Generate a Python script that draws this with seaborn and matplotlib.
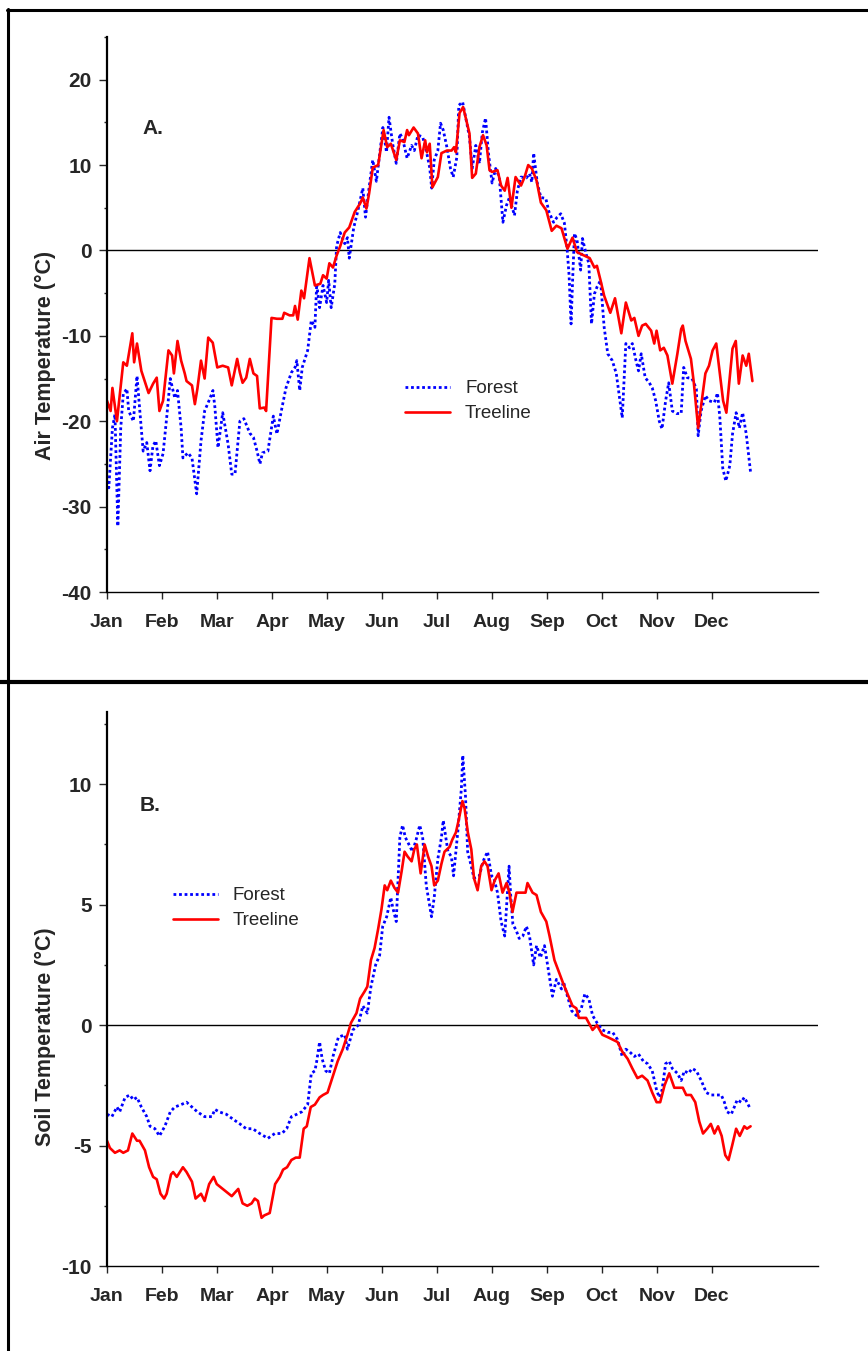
import matplotlib
matplotlib.use("Agg")
import matplotlib.pyplot as plt
from matplotlib.lines import Line2D
from matplotlib.ticker import MultipleLocator, FixedLocator
import seaborn as sns
import pandas as pd

# ---------------- data (day of year, temperature °C) ----------------
months = ["Jan", "Feb", "Mar", "Apr", "May", "Jun", "Jul", "Aug", "Sep", "Oct", "Nov", "Dec"]

air_treeline_day = [0, 2, 3, 5.5, 9, 11, 14, 15, 16.6, 19, 23, 25.5, 27.5, 29, 31, 34, 36, 37, 39, 41, 43, 44, 47, 48.6, 50, 52, 54, 56, 58.5, 61, 64, 67, 69, 72, 73.5, 75, 77, 79, 81, 83, 84.5, 87, 88, 91, 94, 97, 98, 101, 103, 104, 105.5, 107.5, 109, 112, 115, 118, 119.5, 121.5, 123, 125, 127, 129, 131.5, 134, 137, 140, 141.5, 143.5, 145, 147, 150, 153, 155, 157, 160, 162, 164.5, 166, 167, 169.6, 172, 174, 176, 177, 178.5, 180, 183, 185, 188, 190.6, 192, 193, 195, 197, 199, 200.5, 202, 204, 206, 208, 210, 211.6, 213, 216, 218, 220, 221.6, 223.7, 226, 229, 231, 233, 235, 237.6, 240, 243, 246, 248.6, 251.4, 254.7, 257.5, 260, 264, 267, 269.6, 271, 273, 275, 278.4, 281, 284.5, 287, 290, 291.7, 294, 296, 298, 301, 302.7, 304, 306, 308, 310, 312.7, 315.5, 317.6, 318.5, 320, 323, 324.6, 327, 329, 331, 333, 335, 337, 339, 340.8, 342.6, 346, 347.8, 349.5, 351.6, 353.6, 355, 357]
air_treeline_temp = [-17.6, -18.8, -16.1, -20, -13.1, -13.5, -9.7, -13.1, -10.9, -14.1, -16.7, -15.6, -14.9, -18.8, -17.6, -11.7, -12.3, -14.4, -10.6, -12.9, -14.4, -15.3, -15.8, -18, -16.2, -12.9, -15, -10.2, -10.8, -13.7, -13.5, -13.7, -15.8, -12.7, -14.3, -15.5, -14.9, -12.7, -14.4, -14.7, -18.5, -18.4, -18.8, -7.9, -8.0, -8.0, -7.3, -7.6, -7.6, -6.5, -8.1, -4.7, -5.6, -0.9, -4.1, -3.9, -2.9, -3.3, -1.5, -2.0, -0.6, 0.5, 2.1, 2.7, 4.5, 5.5, 6.2, 4.9, 6.7, 9.7, 10.0, 14.1, 12.1, 12.5, 10.6, 12.9, 12.7, 14.1, 13.5, 14.4, 13.7, 10.8, 12.9, 11.5, 12.5, 7.4, 8.6, 11.4, 11.7, 11.7, 12.1, 11.5, 16.1, 16.8, 15.0, 13.7, 8.5, 9.0, 12.1, 13.5, 12.3, 9.4, 9.2, 9.4, 7.6, 7.0, 8.5, 5.0, 8.6, 7.6, 8.6, 10.0, 9.6, 8.2, 5.6, 4.7, 2.3, 2.9, 2.6, 0.2, 1.5, -0.2, -0.6, -0.9, -2.0, -1.8, -3.5, -5.3, -7.3, -5.6, -9.7, -6.1, -8.2, -7.9, -10.0, -8.8, -8.6, -9.4, -10.9, -9.4, -11.7, -11.4, -12.3, -15.6, -12.1, -9.2, -8.8, -10.6, -12.7, -15.5, -20.8, -17.6, -14.4, -13.5, -11.7, -10.9, -14.4, -17.6, -19.0, -11.5, -10.6, -15.6, -12.3, -13.5, -12.1, -15.3]

air_forest_day = [0, 1, 3, 4.4, 6, 7.6, 9, 11, 12, 14.6, 16.6, 18, 20, 22, 23.8, 25.4, 27, 29, 31, 33, 35, 37.5, 39, 41, 42, 44.8, 47, 49.6, 52, 54, 57, 58.6, 59.7, 61.4, 64, 67, 69, 70.8, 73.5, 75.7, 79, 81, 83, 84.6, 86, 89, 92, 94, 96.7, 99, 102, 104, 105, 106.6, 108, 111, 113, 115, 116, 117.6, 119.5, 121.5, 122.6, 124, 126, 127, 129, 131.5, 133, 134, 136.5, 138.6, 141.5, 143, 145, 147, 149, 152.6, 154.6, 156, 158, 160, 162, 163.5, 166, 168.5, 170, 172, 174.6, 176.6, 178.5, 179.6, 181, 183, 184.5, 186, 188, 190, 191.5, 193.5, 194.6, 196.7, 199, 200.5, 202, 204, 206, 207.6, 209.4, 211, 213, 215, 217, 219, 221, 222.6, 225.4, 227, 229, 232, 233.7, 235, 236, 238, 240, 242.7, 244.5, 247, 249, 251, 253, 254.5, 255.6, 256.7, 257.6, 258.6, 260, 262, 263, 265, 266.5, 268, 269.6, 271, 273, 275, 277, 279.5, 281.7, 283.5, 285, 287, 289, 290.6, 292.6, 294, 295.5, 297.7, 300, 301.6, 303.5, 305.5, 307, 309, 310.7, 312.7, 315, 317.6, 319, 321, 323.6, 326, 327, 328.6, 331, 333, 336, 337.7, 339, 340.6, 342.3, 344.5, 346, 348, 349.8, 351.6, 353.6, 356]
air_forest_temp = [-27.0, -27.8, -20.8, -19.2, -32.3, -20.8, -16.8, -16.2, -18.8, -20.0, -14.7, -18.4, -23.5, -22.5, -25.8, -22.9, -22.3, -25.2, -23.8, -19.6, -15.0, -17.3, -16.4, -20.8, -24.3, -23.7, -24.3, -28.5, -22.3, -18.8, -17.3, -16.4, -18.4, -23.1, -19.0, -22.7, -26.2, -26.2, -20.0, -19.7, -21.4, -21.9, -23.5, -25.0, -23.7, -23.5, -19.4, -21.5, -18.5, -16.1, -14.3, -13.7, -12.9, -16.4, -13.7, -11.7, -8.2, -9.0, -3.9, -6.7, -4.1, -6.1, -3.5, -6.7, -3.9, 0.5, 2.1, 0.8, 1.5, -0.9, 2.7, 4.5, 7.3, 3.9, 7.4, 10.6, 8.1, 14.4, 11.5, 15.6, 12.5, 10.2, 13.7, 13.1, 10.8, 12.3, 11.7, 13.5, 13.3, 11.7, 9.7, 7.3, 10.6, 11.7, 14.9, 14.1, 12.1, 9.6, 8.6, 10.9, 17.0, 17.4, 14.9, 13.3, 9.6, 12.3, 10.2, 13.8, 15.5, 11.4, 7.9, 9.6, 8.6, 3.3, 5.3, 6.2, 4.1, 7.0, 8.6, 8.5, 9.0, 8.0, 11.4, 7.9, 6.2, 6.1, 4.5, 3.3, 3.9, 4.3, 3.2, 0.2, -2.9, -8.6, -3.2, 2.0, 1.2, -2.3, 1.4, -0.4, -1.5, -8.6, -5.1, -4.3, -3.5, -9.0, -12.1, -12.9, -14.4, -17.2, -19.6, -10.9, -11.4, -10.9, -12.9, -14.1, -12.1, -14.9, -15.5, -16.1, -17.6, -20.0, -20.9, -17.6, -15.5, -18.8, -19.1, -19.1, -13.7, -14.9, -15.0, -16.2, -21.7, -18.8, -17.0, -17.6, -17.8, -16.7, -19.6, -25.5, -27.0, -25.2, -21.5, -19.0, -20.8, -19.0, -21.5, -26.0]

soil_treeline_day = [0, 1.6, 4.4, 7, 9, 11.6, 14, 16.6, 18, 21, 23.3, 25.5, 27.5, 29.6, 31.6, 33, 35.4, 36.6, 38.6, 40.3, 42, 44, 47, 49, 52, 54, 56.5, 59, 60.7, 64, 69, 72.6, 75, 77.6, 80, 81.7, 83.5, 85.5, 87, 90, 93, 95.6, 97.4, 99.6, 102, 104.4, 106.6, 108.8, 110.5, 112.7, 115, 117.6, 119.5, 122, 125, 127.6, 130.4, 133, 135, 138, 140, 142.5, 144, 146, 148, 150, 151.8, 153.6, 155, 157, 159, 161, 163, 164.6, 166.3, 168.5, 170, 171.4, 173.5, 175.7, 177.6, 179.5, 181, 183, 185, 186.7, 189.5, 191, 193, 194.5, 196.6, 197.8, 199.6, 201.5, 203, 205, 207, 208.8, 210.5, 212.7, 214.4, 216.6, 218.8, 221, 222.6, 224.3, 226.5, 229, 231.5, 232.6, 235.4, 237.6, 240, 243, 244.8, 247.5, 250, 252, 254.7, 257.5, 259.6, 261, 265, 268.6, 271, 274, 277, 279.7, 282.4, 285, 288, 290.6, 293.4, 296, 299, 301.6, 304, 306, 308.4, 311, 313.8, 316.5, 318.5, 320.4, 323, 325.4, 327.6, 329.7, 332, 334, 336, 338, 340, 342, 343.8, 345.8, 348, 350, 352.5, 354, 356]
soil_treeline_temp = [-4.8, -5.1, -5.3, -5.2, -5.3, -5.2, -4.5, -4.8, -4.8, -5.2, -5.9, -6.3, -6.4, -7.0, -7.2, -7.0, -6.2, -6.1, -6.3, -6.1, -5.9, -6.1, -6.5, -7.2, -7.0, -7.3, -6.6, -6.3, -6.6, -6.8, -7.1, -6.8, -7.4, -7.5, -7.4, -7.2, -7.3, -8.0, -7.9, -7.8, -6.6, -6.3, -6.0, -5.9, -5.6, -5.5, -5.5, -4.3, -4.2, -3.4, -3.3, -3.0, -2.9, -2.8, -2.1, -1.5, -1.0, -0.4, 0.1, 0.5, 1.1, 1.4, 1.6, 2.7, 3.2, 4.0, 4.8, 5.8, 5.6, 6.0, 5.7, 5.5, 6.4, 7.2, 7.0, 6.8, 7.3, 7.5, 6.3, 7.5, 7.0, 6.6, 5.8, 6.0, 6.7, 7.2, 7.4, 7.7, 8.0, 8.5, 9.3, 9.0, 8.0, 7.3, 6.1, 5.6, 6.6, 6.8, 6.6, 5.6, 6.0, 6.3, 5.5, 5.9, 5.5, 4.7, 5.5, 5.5, 5.5, 5.9, 5.5, 5.4, 4.7, 4.3, 3.7, 2.7, 2.2, 1.8, 1.3, 0.8, 0.7, 0.3, 0.3, -0.2, 0.0, -0.4, -0.5, -0.6, -0.7, -1.1, -1.4, -1.8, -2.2, -2.1, -2.3, -2.8, -3.2, -3.2, -2.5, -2.0, -2.6, -2.6, -2.6, -2.9, -2.9, -3.2, -4.0, -4.5, -4.3, -4.1, -4.5, -4.2, -4.6, -5.4, -5.6, -5.0, -4.3, -4.6, -4.2, -4.3, -4.2]

soil_forest_day = [0, 2.7, 5.5, 7, 10, 12.7, 14.5, 16.6, 19, 22, 23.8, 26.5, 29, 32, 35, 37.5, 41, 44, 47, 50, 54, 58, 59.7, 62, 66, 69.6, 73.5, 77, 80.6, 84.5, 89, 92.8, 96.7, 99.4, 102, 105, 107.7, 111, 113, 115, 116, 117.6, 119, 121, 123, 125, 128, 131.5, 133, 136, 139, 141.5, 144, 146, 148.6, 150.8, 152.5, 154.7, 157, 158, 160, 161.3, 162, 163.5, 165, 167, 169, 171, 173, 174.6, 176.6, 179.5, 181, 183, 185, 186, 188.6, 190.5, 191.7, 194, 196, 196.8, 198.3, 199.5, 201.5, 203, 206, 208, 210.5, 212.7, 214, 216, 218, 220, 221, 222.4, 223.3, 224.5, 226.5, 228, 230, 232, 233.7, 236, 237.6, 239.7, 242, 243.7, 246.4, 248.6, 251.4, 252.5, 254.7, 257, 259.6, 262.4, 264.3, 266.5, 268.6, 271, 274, 277, 279.7, 282.4, 285, 287, 289, 291.7, 294, 296.7, 299, 301.6, 304, 305.5, 307, 309, 311, 312.7, 315.5, 317.6, 319.4, 321.6, 323.7, 326, 328.7, 331.5, 334, 337, 339.8, 341.5, 343, 345.3, 347, 348.6, 350.8, 352.5, 354, 356]
soil_forest_temp = [-3.7, -3.8, -3.4, -3.6, -3.0, -2.9, -3.1, -3.0, -3.4, -3.8, -4.2, -4.3, -4.6, -4.2, -3.6, -3.4, -3.3, -3.2, -3.4, -3.6, -3.8, -3.8, -3.5, -3.6, -3.7, -3.9, -4.1, -4.3, -4.3, -4.5, -4.7, -4.5, -4.5, -4.3, -3.8, -3.7, -3.6, -3.3, -2.0, -1.9, -1.5, -0.7, -1.4, -1.9, -2.0, -1.3, -0.5, -0.4, -1.0, -0.2, 0.0, 0.8, 0.5, 1.6, 2.5, 2.9, 4.1, 4.5, 5.3, 4.9, 4.3, 6.6, 7.8, 8.3, 7.8, 7.5, 7.2, 7.7, 8.3, 7.8, 5.8, 4.5, 5.3, 6.9, 7.8, 8.5, 7.2, 7.0, 6.2, 8.0, 9.8, 11.2, 9.5, 7.2, 6.6, 6.1, 6.2, 6.8, 7.2, 6.2, 6.1, 5.5, 4.3, 3.7, 4.9, 6.6, 5.4, 4.2, 3.9, 3.6, 3.7, 4.1, 3.7, 2.5, 3.3, 2.8, 3.3, 2.5, 1.2, 1.9, 1.5, 1.8, 1.2, 0.6, 0.4, 0.7, 1.3, 1.1, 0.4, 0.1, -0.2, -0.3, -0.3, -0.6, -1.3, -1.0, -1.1, -1.3, -1.2, -1.5, -1.6, -1.9, -2.7, -3.0, -2.7, -1.6, -1.5, -1.8, -2.0, -2.3, -1.9, -2.0, -1.8, -1.9, -2.3, -2.8, -2.9, -2.9, -2.9, -3.2, -3.6, -3.7, -3.4, -3.1, -3.2, -3.0, -3.2, -3.5]

series_labels = ["Forest", "Treeline"]

# ---------------- style ----------------
sns.set_style("white")
plt.rcParams["font.family"] = ["Liberation Sans", "DejaVu Sans"]
plt.rcParams["axes.unicode_minus"] = False

W, H = 868, 1351
fig = plt.figure(figsize=(W / 100, H / 100), dpi=100)

def fx(px):
    return px / W

def fy(py):
    return 1 - py / H

BLUE = "#0000FF"
RED = "#FF0000"
DAYS_PER_MONTH = 365 / 12.0


def panel(rect, f_day, f_temp, t_day, t_temp, ylim, major, minor, ylabel_txt, ylabel_y, letter, letter_pos, leg_anchor):
    ax = fig.add_axes(rect)
    df_f = pd.DataFrame({"day": f_day, "temp": f_temp})
    df_t = pd.DataFrame({"day": t_day, "temp": t_temp})
    sns.lineplot(data=df_f, x="day", y="temp", ax=ax, color=BLUE, lw=2.0,
                 estimator=None, sort=False, label=series_labels[0],
                 dashes=False, linestyle=(0, (1.0, 1.0)), dash_capstyle="butt")
    sns.lineplot(data=df_t, x="day", y="temp", ax=ax, color=RED, lw=1.9,
                 estimator=None, sort=False, label=series_labels[1])
    ax.axhline(0, color="black", lw=1.0, zorder=0)
    ax.set_xlim(0, 12.93 * DAYS_PER_MONTH)
    ax.set_ylim(*ylim)
    ax.xaxis.set_major_locator(FixedLocator([i * DAYS_PER_MONTH for i in range(12)]))
    ax.set_xticklabels(months)
    ax.yaxis.set_major_locator(MultipleLocator(major))
    ax.yaxis.set_minor_locator(MultipleLocator(minor))
    ax.set_xlabel("")
    ax.set_ylabel("")
    for s in ["top", "right"]:
        ax.spines[s].set_visible(False)
    ax.spines["left"].set_linewidth(1.6)
    ax.spines["bottom"].set_linewidth(1.0)
    ax.spines["left"].set_color("black")
    ax.spines["bottom"].set_color("black")
    ax.tick_params(axis="y", which="major", direction="out", length=6, width=1.0,
                   pad=5, labelsize=15, left=True)
    ax.tick_params(axis="y", which="minor", direction="out", length=2.5, width=1.0, left=True)
    ax.tick_params(axis="x", which="major", direction="out", length=5, width=1.0,
                   pad=10.5, labelsize=14, bottom=True)
    for lab in ax.get_xticklabels() + ax.get_yticklabels():
        lab.set_fontweight("bold")
    ax.text(letter_pos[0], letter_pos[1], letter, transform=ax.transAxes,
            fontsize=15, fontweight="bold", ha="left", va="center")
    fig.text(fx(45), fy(ylabel_y), ylabel_txt, rotation=90, ha="center", va="center",
             fontsize=15.5, fontweight="bold")
    ax.legend(loc="upper left", bbox_to_anchor=leg_anchor, frameon=False,
              fontsize=13.5, handlelength=2.4, handletextpad=0.8,
              labelspacing=0.42, borderpad=0, borderaxespad=0)
    return ax


ax_l = fx(107)
ax_w = fx(818) - fx(107)

# Panel A
a_bottom, a_top = fy(592), fy(37)
panel([ax_l, a_bottom, ax_w, a_top - a_bottom],
      air_forest_day, air_forest_temp, air_treeline_day, air_treeline_temp,
      (-40, 25), 10, 5, "Air Temperature (°C)", 355, "A.",
      ((142 - 107) / 711, (592 - 128) / 555), ((405 - 107) / 711, (592 - 380) / 555))

# Panel B
b_bottom, b_top = fy(1266), fy(712)
panel([ax_l, b_bottom, ax_w, b_top - b_bottom],
      soil_forest_day, soil_forest_temp, soil_treeline_day, soil_treeline_temp,
      (-10, 13), 5, 2.5, "Soil Temperature (°C)", 1037, "B.",
      ((140 - 107) / 711, (1266 - 805) / 554), ((173 - 107) / 711, (1266 - 887) / 554))

# Frame lines around panels
fig.add_artist(Line2D([fx(8), fx(8)], [fy(8.5), 0], color="black", lw=2.2, transform=fig.transFigure))
fig.add_artist(Line2D([fx(7), 1], [fy(9.5), fy(9.5)], color="black", lw=2.2, transform=fig.transFigure))
fig.add_artist(Line2D([0, 1], [fy(682), fy(682)], color="black", lw=3.0, transform=fig.transFigure))

fig.savefig("out.png", dpi=100, facecolor="white")
